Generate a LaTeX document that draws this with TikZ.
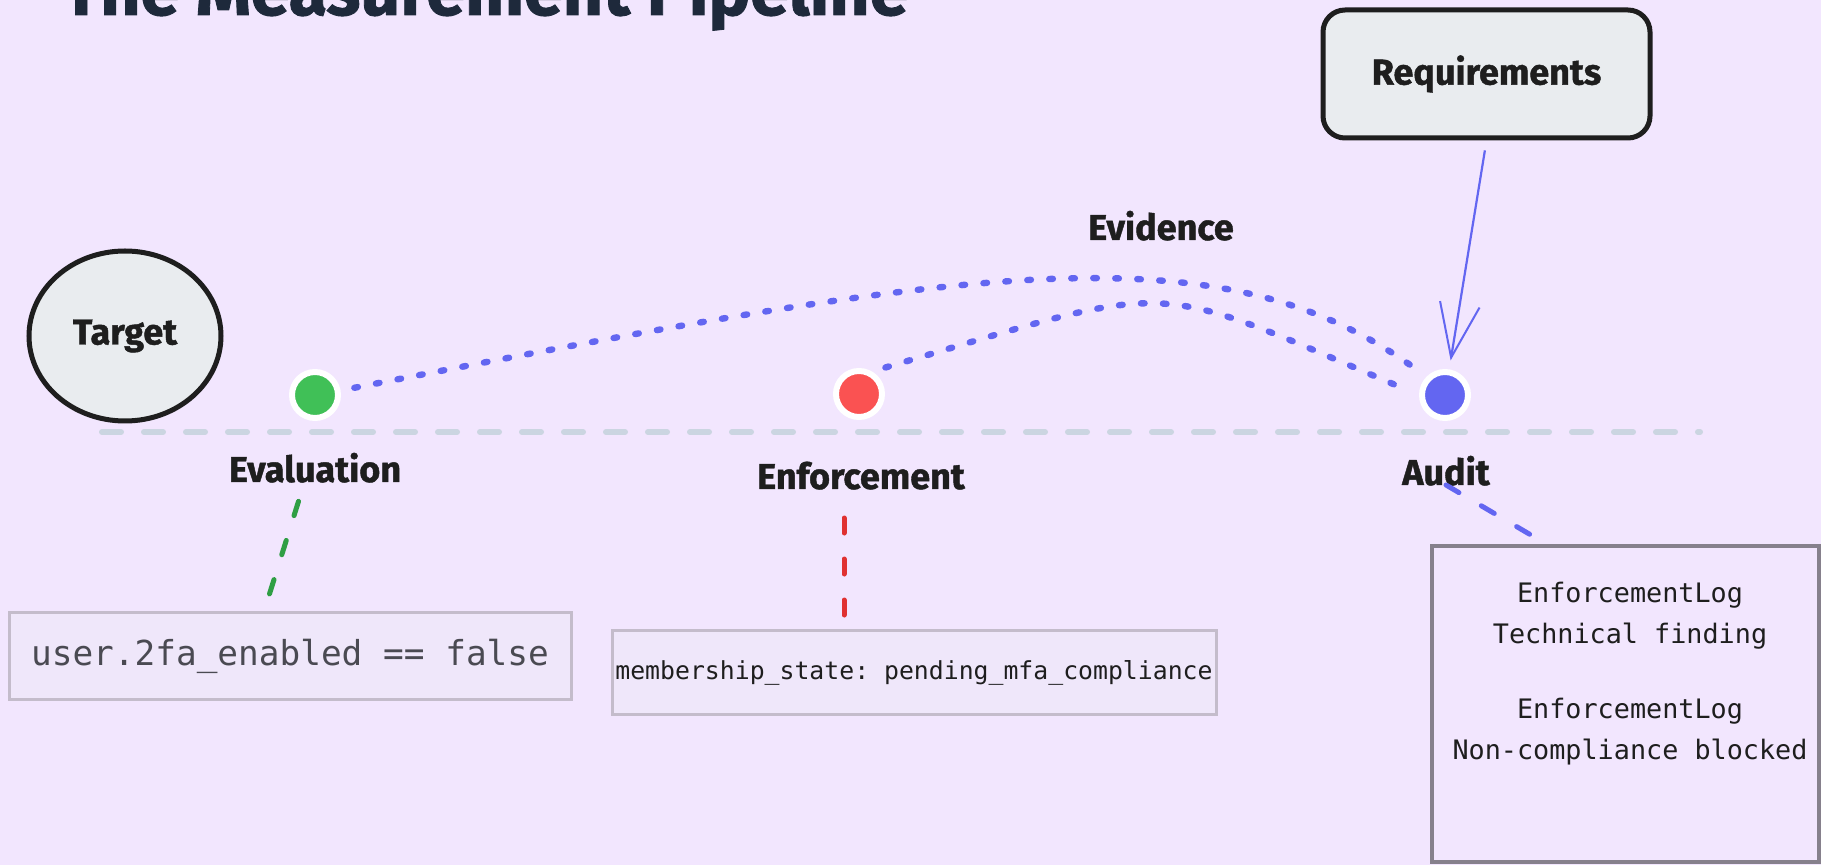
\documentclass[tikz,border=0pt]{standalone}
\usepackage{fontspec}
\setmainfont{Fira Sans}
\setmonofont{DejaVu Sans Mono}
\newfontfamily\heavyfont{Fira Sans}[BoldFeatures={FakeBold=1.2}]
\usetikzlibrary{arrows.meta,positioning,shapes.geometric}

\definecolor{bgpurple}{HTML}{F2E6FE}
\definecolor{ink}{HTML}{1E1E1E}
\definecolor{titleink}{HTML}{1E293B}
\definecolor{codegray}{HTML}{4A4A52}
\definecolor{shapefill}{HTML}{E9ECEF}
\definecolor{tlgray}{HTML}{CBD5E1}
\definecolor{evgreen}{HTML}{40C057}
\definecolor{enfred}{HTML}{FA5252}
\definecolor{audblue}{HTML}{6366F1}
\definecolor{lnkgreen}{HTML}{2F9E44}
\definecolor{lnkred}{HTML}{E03131}
\definecolor{boxline}{HTML}{C4BCCB}
\definecolor{logline}{HTML}{86808C}
\definecolor{boxfill}{HTML}{EFE7FA}

\begin{document}
\begin{tikzpicture}[
    x=0.5pt, y=-0.5pt,
    lbl/.style={font=\heavyfont\fontsize{18}{22}\selectfont\bfseries, text=ink, inner sep=2pt},
    stagedot/.style={circle, draw=white, line width=3pt, minimum size=23pt, inner sep=0pt},
    codebox/.style={draw=boxline, fill=boxfill, line width=1.5pt, inner sep=0pt, text=ink},
    tline/.style={draw=tlgray, line width=3pt, line cap=round, dash pattern=on 9.5pt off 11.5pt},
    evidence/.style={draw=audblue, line width=3.2pt, line cap=round, dash pattern=on 1.8pt off 9.2pt},
    lnk/.style={line width=2.5pt, line cap=round, dash pattern=on 7.5pt off 13pt},
    req/.style={-{Straight Barb[length=27pt, width=20pt, line width=1pt]}, draw=audblue, line width=1.1pt},
  ]
  % background and page size
  \fill[bgpurple] (0,0) rectangle (1821,865);
  \useasboundingbox (0,0) rectangle (1821,865);

  % title, cut by the top edge
  \node[anchor=base west, inner sep=0pt, text=titleink, font=\heavyfont\fontsize{35}{40}\selectfont\bfseries] (title) at (62,15) {The Measurement Pipeline};

  % timeline
  \coordinate (tlstart) at (102,432);
  \coordinate (tlend) at (1700,432);
  \draw[tline] (tlstart) -- (tlend);

  % target
  \node[lbl, ellipse, draw=ink, fill=shapefill, line width=2.5pt, minimum width=96pt, minimum height=85pt] (tgt) at (125,336) {Target};

  % stage dots
  \node[stagedot, fill=evgreen] (evdot) at (315,395) {};
  \node[stagedot, fill=enfred] (enfdot) at (859,394) {};
  \node[stagedot, fill=audblue] (auddot) at (1445,395) {};

  % stage labels
  \node[lbl, anchor=base] (evl) at (315,482) {Evaluation};
  \node[lbl, anchor=base] (enfl) at (861,489) {Enforcement};
  \node[lbl, anchor=base] (audl) at (1446,485) {Audit};
  \node[lbl, anchor=base] (evdl) at (1161,240) {Evidence};

  % requirements
  \node[lbl, draw=ink, fill=shapefill, line width=2.5pt, rounded corners=11pt, minimum width=163.5pt, minimum height=64pt] (req) at (1486.5,74) {Requirements};

  % code boxes
  \node[codebox, minimum width=281pt, minimum height=43.5pt, text=codegray, font=\ttfamily\fontsize{17.2}{20}\selectfont] (box1) at (290,656.5) {user.2fa\_enabled == false};
  \node[codebox, minimum width=302pt, minimum height=42pt, font=\ttfamily\fontsize{12.4}{15}\selectfont] (box2) at (914,673) {membership\_state: pending\_mfa\_compliance};
  \node[codebox, draw=logline, line width=2pt, fill=none, minimum width=193.5pt, minimum height=158pt] (box3) at (1625.5,704) {};
  \node[align=center, text=ink, font=\ttfamily\fontsize{13.4}{20.5}\selectfont] (logtxt) at (1630,674) {EnforcementLog\\Technical finding\\[17pt]EnforcementLog\\Non-compliance blocked};

  % evidence flows
  \draw[evidence, shorten <=7pt, shorten >=10pt] (evdot.10) .. controls (955,270) and (1212,225) .. (auddot.135);
  \draw[evidence, shorten <=7pt, shorten >=8pt] (enfdot.60) .. controls (1185,279) and (1143,278) .. (auddot.180);

  % requirement arrow
  \draw[req, shorten <=5pt, shorten >=4.5pt] (req.south) -- (auddot);

  % links to the code boxes
  \draw[lnk, draw=lnkgreen, shorten <=7.5pt, shorten >=7pt] ([xshift=-6pt]evl.south) -- ([xshift=-13pt]box1.north);
  \draw[lnk, draw=lnkred, shorten <=12pt, shorten >=7pt] ([xshift=-8.5pt]enfl.south) -- ([xshift=-8.5pt]enfl.south |- box2.north);
  \draw[lnk, draw=audblue] (audl.base) -- ([xshift=53pt, yshift=3pt]box3.north west);
\end{tikzpicture}
\end{document}
